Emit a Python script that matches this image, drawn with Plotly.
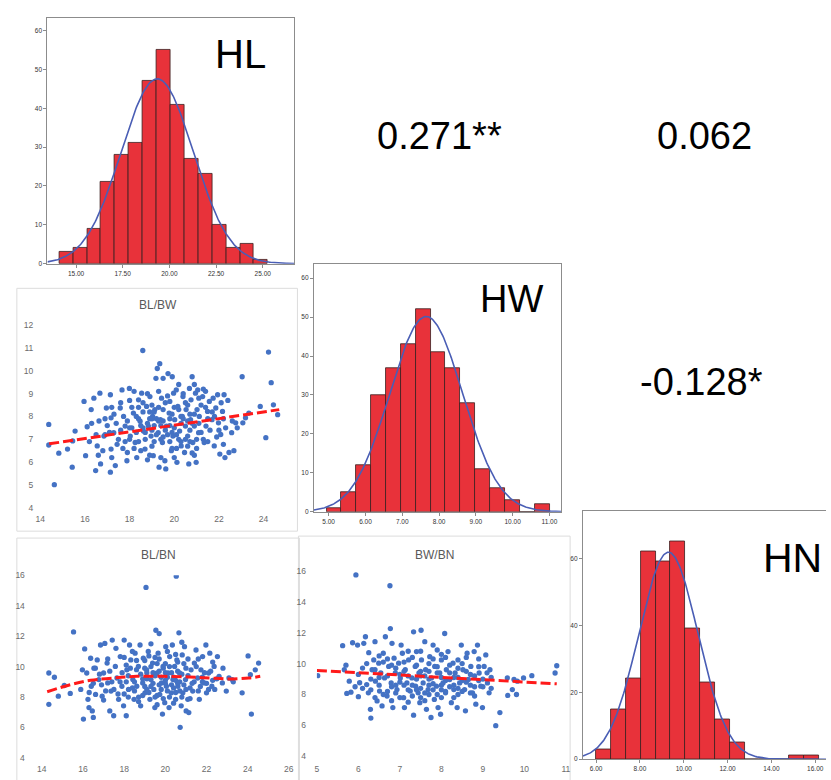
import numpy as np
import plotly.graph_objects as go

W, H = 831, 780
def px(x): return x / W
def py(y): return 1 - y / H

# ---------------- Histogram data ----------------
HL_bin_start, HL_bin_width = 14.1, 0.745
HL_counts = [3, 4, 9, 21, 28, 31, 47, 55, 41, 27, 23, 10, 4, 5, 1]
HL_fit = (19.35, 1.93)

HW_bin_start, HW_bin_width = 4.94, 0.404
HW_counts = [1, 5, 12, 30, 37, 43, 52, 41, 37, 28, 11, 6, 3, 0, 2]
HW_fit = (7.65, 0.99)

HN_bin_start, HN_bin_width = 6.0, 0.677
HN_counts = [3, 15, 24, 62, 59, 65, 39, 23, 12, 5, 0, 0, 0, 1, 1]
HN_fit = (9.3, 1.35)

HL_ticks = [15.0, 17.5, 20.0, 22.5, 25.0]
HW_ticks = [5.0, 6.0, 7.0, 8.0, 9.0, 10.0, 11.0]
HN_ticks = [6.0, 8.0, 10.0, 12.0, 14.0, 16.0]

# ---------------- Correlations ----------------
corr_labels = ["0.271**", "0.062", "-0.128*"]

# ---------------- Scatter BL/BW ----------------
BL_BW = [
(14.38,7.65),(14.38,6.75),(14.63,5.01),(14.83,6.39),(15.22,6.57),(15.43,5.78),(15.56,7.36),(15.45,6.93),
(15.96,8.66),(16.03,6.28),(16.1,7.55),(16.28,8.30),(16.4,8.8),(16.48,5.63),(16.55,6.71),(16.63,7.80),
(16.67,9.02),(16.7,5.92),(16.85,7.14),(16.96,8.37),(17.14,8.95),(17.14,5.56),(17.17,7.94),(17.29,7.29),
(17.17,6.57),(17.36,5.85),(17.44,6.78),(17.58,8.37),(17.66,9.16),(17.73,8.0),(17.8,7.58),(17.9,6.42),
(17.99,9.23),(17.88,6.06),(18.03,7.14),(18.17,8.15),(18.25,6.86),(18.32,6.2),(18.4,8.73),(18.47,7.79),
(18.54,9.02),(18.59,10.89),(18.62,7.36),(18.69,6.57),(18.76,8.44),(18.84,7.58),(18.91,8.87),(18.96,7.14),
(19.03,8.0),(19.06,6.28),(19.13,8.3),(19.18,9.67),(19.24,10.1),(19.28,7.29),(19.32,5.78),(19.35,10.31),
(19.38,7.86),(19.43,8.8),(19.47,6.86),(19.5,9.67),(19.58,6.06),(19.62,5.7),(19.65,7.58),(19.72,9.88),
(19.77,8.15),(19.8,8.66),(19.87,6.5),(19.91,9.74),(19.94,7.14),(19.97,9.02),(20.02,7.86),(20.09,9.16),
(20.12,5.99),(20.16,8.44),(20.24,7.36),(20.31,6.71),(20.36,8.0),(20.39,8.87),(20.46,6.42),(20.5,7.58),
(20.53,8.3),(20.6,7.14),(20.65,5.92),(20.68,9.23),(20.73,7.86),(20.75,8.73),(20.8,9.74),(20.83,6.86),
(20.9,7.58),(20.95,9.02),(20.98,5.99),(21.02,8.3),(21.05,9.16),(21.09,7.29),(21.12,8.0),(21.27,8.87),
(21.34,6.86),(21.42,7.58),(21.49,8.22),(21.57,8.66),(21.69,7.86),(21.74,8.8),(21.79,6.71),(21.86,8.37),
(21.94,8.95),(21.98,7.72),(22.04,6.35),(22.08,7.21),(22.16,8.22),(22.2,6.78),(22.27,6.2),(22.23,8.95),
(22.45,6.42),(22.57,7.29),(22.67,6.5),(22.75,7.72),(22.82,7.5),(23.04,9.74),(23.07,7.72),(23.19,7.94),
(23.34,8.15),(23.85,8.44),(24.1,7.07),(24.22,10.82),(24.34,9.48),(24.44,8.51),(24.63,8.08),
(16.2,6.9),(16.5,7.2),(16.8,6.5),(17.0,7.6),(17.3,8.1),(17.5,7.0),(17.7,6.6),(17.9,7.8),(18.0,7.0),
(18.1,8.4),(18.3,7.3),(18.4,7.9),(18.5,6.5),(18.6,8.2),(18.7,7.0),(18.8,7.7),(18.9,6.3),(19.0,7.4),
(19.0,8.5),(19.1,6.9),(19.2,7.9),(19.3,8.4),(19.4,7.0),(19.5,7.8),(19.6,8.6),(19.7,7.2),(19.8,6.9),
(19.9,8.1),(20.0,7.5),(20.1,6.6),(20.2,8.3),(20.3,7.7),(20.4,9.0),(20.5,7.0),(20.6,8.5),(20.7,7.4),
(20.8,6.4),(20.9,8.1),(21.0,7.0),(21.1,8.8),(21.2,7.3),(21.3,9.2),(21.5,7.9),(21.7,8.2),(21.9,7.1),
(22.1,8.6),(22.3,7.5),(22.6,7.8),(17.2,8.4),(16.9,7.9),(18.2,6.6),(19.4,6.2),(20.0,6.2),(20.7,6.9),
(19.1,7.6),(18.6,7.5),(19.8,7.6),(20.3,8.0),(18.9,8.2),(21.4,8.4),
(17.1,7.3),(17.4,7.7),(17.6,8.6),(17.8,6.9),(18.0,8.7),(18.1,7.5),(18.2,9.1),(18.3,8.0),(18.4,6.9),
(18.5,7.6),(18.6,8.6),(18.7,7.3),(18.8,9.0),(18.9,7.9),(19.0,6.7),(19.1,8.2),(19.2,7.2),(19.3,9.1),
(19.4,7.6),(19.5,8.3),(19.6,7.4),(19.7,8.9),(19.8,7.9),(19.9,6.6),(20.0,8.4),(20.1,7.2),(20.2,9.4),
(20.3,6.9),(20.4,7.9),(20.5,8.6),(20.6,6.7),(20.7,8.1),(20.8,7.7),(20.9,9.4),(21.0,6.6),(21.1,7.7),
(21.2,8.5),(21.3,7.0),(21.4,9.1),(21.6,7.4),(21.8,8.0),(22.0,7.4),(22.2,7.9),(22.4,8.7),(16.3,7.7),
(16.6,6.3),(16.9,7.2),(17.2,6.2),(17.6,7.4),(18.0,7.5),(18.8,6.1),(19.5,7.1),(20.2,7.0),(20.9,6.3),
(21.5,6.9),(19.3,7.8),(19.9,7.3),(18.4,8.4),(20.6,7.8),(19.0,7.9)]
BL_BW_trend_x = [14.4, 24.7]
BL_BW_trend_y = [6.8, 8.3]

# ---------------- Scatter BL/BN ----------------
BL_BN = [
(14.34,9.58),(14.34,7.52),(14.61,9.30),(14.8,8.06),(15.09,8.76),(15.38,8.24),(15.54,12.28),(15.89,8.5),
(15.97,9.79),(16.02,6.55),(16.08,11.16),(16.18,9.58),(16.24,7.85),(16.29,7.31),(16.37,10.55),(16.4,8.71),
(16.45,7.09),(16.5,6.66),(16.53,9.9),(16.61,8.17),(16.69,10.44),(16.77,9.15),(16.85,11.42),(16.93,8.06),
(17.0,9.58),(17.06,11.52),(17.17,10.23),(17.2,8.93),(17.3,7.09),(17.36,8.39),(17.42,11.74),(17.49,6.77),
(17.57,10.01),(17.65,9.25),(17.73,7.85),(17.81,10.66),(17.89,8.71),(17.97,7.42),(18.0,11.74),(18.1,6.77),
(18.13,9.79),(18.21,8.5),(18.26,11.42),(18.32,10.44),(18.42,9.15),(18.48,7.85),(18.53,10.88),(18.61,8.71),
(18.69,10.01),(18.77,11.42),(18.8,7.42),(18.9,8.93),(18.93,10.55),(19.01,8.28),(19.06,15.2),(19.09,9.79),
(19.17,11.0),(19.25,7.85),(19.3,9.15),(19.38,10.23),(19.44,8.5),(19.49,7.31),(19.54,12.39),(19.6,9.58),
(19.65,10.88),(19.7,12.17),(19.73,8.17),(19.81,8.93),(19.86,6.88),(19.89,10.01),(19.97,7.63),(20.02,11.31),
(20.05,8.71),(20.13,9.58),(20.18,7.31),(20.21,10.66),(20.29,8.28),(20.34,11.42),(20.37,9.15),(20.45,10.01),
(20.5,7.85),(20.53,15.94),(20.56,10.44),(20.61,8.71),(20.66,12.22),(20.69,9.58),(20.72,6.01),(20.77,7.42),
(20.82,10.77),(20.85,8.28),(20.93,11.31),(20.98,9.15),(21.01,7.09),(21.09,7.85),(21.14,6.98),(21.25,9.79),
(21.33,8.39),(21.41,10.23),(21.49,11.09),(21.57,9.25),(21.65,7.85),(21.73,9.79),(21.81,10.66),(21.89,8.93),
(21.97,11.42),(22.0,8.28),(22.1,9.58),(22.16,10.88),(22.26,8.71),(22.37,10.01),(22.53,10.66),(22.61,9.36),
(22.77,8.93),(22.96,8.39),(23.09,9.25),(23.25,9.15),(23.73,8.28),(24.02,10.7),(24.18,6.88),(24.13,9.47),
(24.37,9.79),(24.53,10.23),
(17.5,8.5),(17.8,9.0),(18.0,8.2),(18.2,9.4),(18.4,8.6),(18.6,9.8),(18.7,8.0),(18.9,9.2),(19.0,8.7),
(19.1,9.6),(19.2,8.3),(19.3,10.0),(19.4,8.9),(19.5,9.4),(19.6,8.1),(19.7,9.7),(19.8,8.5),(19.9,9.9),
(20.0,8.9),(20.1,9.3),(20.2,8.0),(20.3,9.6),(20.4,8.6),(20.5,9.1),(20.6,10.3),(20.7,8.4),(20.8,9.5),
(20.9,8.8),(21.0,9.9),(21.2,8.6),(21.4,9.0),(21.6,8.4),(21.8,9.3),(22.0,8.9),(22.2,9.7),(22.4,8.5),
(16.8,9.5),(17.1,8.4),(17.3,9.7),(16.5,8.9),(18.1,10.1),(18.5,9.0),(19.0,10.4),(19.5,10.6),(20.0,10.2),
(20.5,10.8),(21.1,10.5),(22.3,9.1),(22.8,9.9),(23.3,9.0),
(16.6,9.9),(16.9,8.8),(17.2,10.5),(17.4,9.0),(17.7,8.2),(17.9,9.6),(18.0,10.6),(18.2,8.0),(18.3,9.9),
(18.5,8.4),(18.6,10.4),(18.8,9.5),(18.9,8.1),(19.0,9.9),(19.1,8.5),(19.2,10.7),(19.3,8.7),(19.4,9.6),
(19.5,8.0),(19.6,10.2),(19.7,8.8),(19.8,9.3),(19.9,7.9),(20.0,9.6),(20.1,8.4),(20.2,10.0),(20.3,8.8),
(20.4,9.3),(20.5,8.3),(20.6,9.7),(20.7,9.0),(20.8,8.0),(20.9,10.2),(21.0,8.5),(21.1,9.4),(21.3,8.9),
(21.5,10.0),(21.7,8.7),(21.9,9.6),(22.1,8.5),(22.3,10.3),(22.5,9.2),(17.0,7.8),(17.6,11.2),(18.4,11.0),
(19.3,11.5),(20.1,11.0),(20.8,11.6),(21.6,10.5),(18.7,7.7),(19.6,7.5),(20.4,7.6),(21.2,7.9),(16.3,8.3),
(19.1,9.2),(20.0,9.1),(19.7,10.5),(18.1,9.0),(20.6,8.9),(21.8,9.0)]
BL_BN_trend_x = [14.26, 15.41, 16.37, 17.49, 18.61, 19.89, 21.17, 22.13, 23.09, 24.05, 24.61]
BL_BN_trend_y = [8.35, 8.82, 9.10, 9.25, 9.36, 9.36, 9.32, 9.25, 9.19, 9.25, 9.36]

# ---------------- Scatter BW/BN ----------------
BW_BN = [
(5.02,9.22),(5.62,11.16),(5.66,9.6),(5.72,8.07),(5.78,8.86),(5.82,8.15),(5.86,11.35),(5.92,8.5),
(5.94,15.74),(5.98,11.2),(6.0,7.86),(6.03,8.76),(6.1,9.71),(6.13,11.31),(6.17,11.74),(6.2,8.64),
(6.24,8.11),(6.25,10.71),(6.29,7.04),(6.3,6.47),(6.33,9.6),(6.37,10.24),(6.4,11.42),(6.41,8.86),
(6.45,7.58),(6.49,10.03),(6.51,8.22),(6.54,9.39),(6.57,7.26),(6.6,10.67),(6.63,9.07),(6.65,11.74),
(6.69,7.9),(6.73,9.82),(6.76,15.04),(6.77,12.27),(6.79,8.75),(6.81,11.31),(6.83,7.15),(6.86,10.35),
(6.89,9.39),(6.93,8.32),(6.97,10.03),(7.01,9.07),(7.03,11.2),(7.06,10.67),(7.09,7.79),(7.11,7.15),
(7.13,9.6),(7.17,8.75),(7.21,10.24),(7.25,8.22),(7.29,9.07),(7.33,12.06),(7.33,6.66),(7.37,9.82),
(7.38,8.54),(7.4,10.78),(7.44,8.11),(7.46,9.39),(7.48,7.47),(7.51,12.16),(7.52,10.24),(7.56,8.75),
(7.6,11.42),(7.62,9.6),(7.64,7.04),(7.68,8.32),(7.72,10.45),(7.75,6.51),(7.76,9.07),(7.8,11.2),
(7.83,7.68),(7.84,9.82),(7.88,8.54),(7.9,10.88),(7.92,7.15),(7.96,9.39),(7.98,6.72),(8.0,10.24),
(8.04,8.75),(8.08,11.95),(8.1,8.11),(8.12,9.6),(8.16,10.78),(8.2,8.97),(8.24,7.47),(8.28,10.03),
(8.3,8.32),(8.33,9.39),(8.38,7.15),(8.4,10.24),(8.44,8.75),(8.48,11.2),(8.52,9.6),(8.56,8.32),
(8.58,6.94),(8.62,10.67),(8.65,8.97),(8.71,9.82),(8.75,8.11),(8.79,10.78),(8.83,7.37),(8.87,11.2),
(8.91,9.39),(8.95,8.54),(8.99,7.15),(9.03,9.82),(9.07,10.56),(9.11,8.75),(9.15,8.11),(9.17,9.6),
(9.31,5.98),(9.41,6.83),(9.59,9.07),(9.6,7.94),(9.71,8.32),(9.75,8.97),(9.81,8.0),(9.83,8.86),
(9.98,9.07),(10.18,9.22),(10.74,9.39),(10.78,9.86),
(6.5,8.6),(6.7,9.2),(6.9,8.1),(7.0,8.8),(7.1,9.5),(7.2,8.3),(7.3,8.6),(7.4,9.0),(7.5,8.4),(7.6,9.2),
(7.7,8.0),(7.8,8.7),(7.9,9.4),(8.0,8.3),(8.1,8.9),(8.2,9.4),(8.3,8.6),(8.4,9.1),(8.5,8.2),(8.6,8.8),
(8.7,9.3),(8.8,8.5),(9.0,9.0),(9.2,8.4),(6.6,10.1),(6.8,7.6),(7.2,7.5),(7.5,7.8),(8.0,7.8),(8.4,8.0),
(6.3,9.0),(6.0,9.3),(7.7,10.0),(8.9,9.8),(6.4,7.8),
(6.3,8.3),(6.4,9.6),(6.5,10.5),(6.6,8.0),(6.7,10.3),(6.8,8.5),(6.9,9.7),(7.0,7.8),(7.1,10.1),(7.2,9.2),
(7.3,7.9),(7.3,10.4),(7.4,8.3),(7.5,9.5),(7.5,10.8),(7.6,8.1),(7.7,9.0),(7.8,10.3),(7.8,8.3),(7.9,9.8),
(8.0,8.6),(8.0,9.1),(8.1,10.4),(8.1,8.2),(8.2,9.9),(8.3,9.1),(8.4,8.4),(8.5,10.0),(8.5,8.9),(8.6,9.5),
(8.7,8.1),(8.8,9.2),(8.9,10.3),(9.0,8.5),(9.1,9.4),(6.2,10.0),(6.5,9.1),(6.8,9.9),(7.1,8.6),(7.4,9.9),
(7.7,8.6),(8.0,10.6),(8.3,7.8),(8.6,10.4),(8.9,8.9),(6.9,8.6),(7.2,10.8),(7.6,7.6),(7.9,8.0),(8.2,8.5),
(8.4,9.7),(8.7,8.6),(7.0,9.3),(7.5,9.2),(7.7,9.5),(6.7,8.2),(8.8,7.9),(9.2,9.1),(6.1,8.4),(5.7,9.9)]
BW_BN_trend_x = [5.0, 10.78]
BW_BN_trend_y = [9.56, 8.69]

# ---------------- Styles ----------------
BAR_RED = "#E8323A"
CURVE_BLUE = "#4A5EB5"
DOT_BLUE = "#4472C4"
TREND_RED = "#FF1A1A"
FONT = "Liberation Sans, Arial, sans-serif"

fig = go.Figure()

def hist_panel(idx, start, width, counts, fit, xr):
    n = len(counts)
    centers = [start + (i + 0.5) * width for i in range(n)]
    fig.add_trace(go.Bar(x=centers, y=counts, width=width,
                         marker=dict(color=BAR_RED, line=dict(color="#3a2020", width=0.8)),
                         xaxis=f"x{idx}", yaxis=f"y{idx}", showlegend=False, hoverinfo="skip"))
    total = sum(counts)
    mu, sd = fit
    xs = np.linspace(xr[0], xr[1], 300)
    ys = total * width * np.exp(-0.5 * ((xs - mu) / sd) ** 2) / (sd * np.sqrt(2 * np.pi))
    fig.add_trace(go.Scatter(x=xs, y=ys, mode="lines", line=dict(color=CURVE_BLUE, width=1.6),
                             xaxis=f"x{idx}", yaxis=f"y{idx}", showlegend=False, hoverinfo="skip"))

def scatter_panel(idx, pts, tx, ty):
    xs = [p[0] for p in pts]
    ys = [p[1] for p in pts]
    fig.add_trace(go.Scatter(x=xs, y=ys, mode="markers",
                             marker=dict(color=DOT_BLUE, size=5.3),
                             xaxis=f"x{idx}", yaxis=f"y{idx}", showlegend=False, hoverinfo="skip"))
    fig.add_trace(go.Scatter(x=tx, y=ty, mode="lines", line_shape="spline",
                             line=dict(color=TREND_RED, width=3, dash="10px,4px"),
                             xaxis=f"x{idx}", yaxis=f"y{idx}", showlegend=False, hoverinfo="skip"))

HL_xr = [13.47, 26.7]; HW_xr = [4.6, 11.32]; HN_xr = [5.4, 16.49]
hist_panel(1, HL_bin_start, HL_bin_width, HL_counts, HL_fit, HL_xr)
hist_panel(2, HW_bin_start, HW_bin_width, HW_counts, HW_fit, HW_xr)
hist_panel(3, HN_bin_start, HN_bin_width, HN_counts, HN_fit, HN_xr)
scatter_panel(4, BL_BW, BL_BW_trend_x, BL_BW_trend_y)
scatter_panel(5, BL_BN, BL_BN_trend_x, BL_BN_trend_y)
scatter_panel(6, BW_BN, BW_BN_trend_x, BW_BN_trend_y)

hist_x = dict(showline=True, linecolor="#8c8c8c", linewidth=1.2, mirror=True, ticks="outside",
              ticklen=3, tickcolor="#8c8c8c", tickformat=".2f", showgrid=False, zeroline=False,
              tickfont=dict(size=6.5, color="#333333", family=FONT))
hist_y = dict(showline=True, linecolor="#8c8c8c", linewidth=1.2, mirror=True, ticks="outside",
              ticklen=3, tickcolor="#8c8c8c", showgrid=False, zeroline=False,
              tickfont=dict(size=6.5, color="#333333", family=FONT))
sc_ax = dict(showline=False, showgrid=False, zeroline=False, ticks="",
             tickfont=dict(size=8.5, color="#6b6b6b", family=FONT))

layout = dict(
    width=W, height=H, margin=dict(l=0, r=0, t=0, b=0), autosize=False,
    paper_bgcolor="white", plot_bgcolor="rgba(0,0,0,0)", bargap=0,
    font=dict(family=FONT),
    xaxis=dict(hist_x, domain=[px(43), px(293)], range=HL_xr, tickvals=HL_ticks, anchor="y"),
    yaxis=dict(hist_y, domain=[py(262), py(13)], range=[0, 63.3], tickvals=[0, 10, 20, 30, 40, 50, 60], anchor="x"),
    xaxis2=dict(hist_x, domain=[px(312.7), px(563)], range=HW_xr, tickvals=HW_ticks, anchor="y2"),
    yaxis2=dict(hist_y, domain=[py(513.3), py(262.5)], range=[0, 63.6], tickvals=[0, 10, 20, 30, 40, 50, 60], anchor="x2"),
    xaxis3=dict(hist_x, domain=[px(585), 1.0], range=HN_xr, tickvals=HN_ticks, anchor="y3"),
    yaxis3=dict(hist_y, domain=[py(764), py(513)], range=[0, 74], tickvals=[0, 20, 40, 60], anchor="x3", mirror=False),
    xaxis4=dict(sc_ax, domain=[px(35.7), px(290)], range=[14, 25.25], tickvals=[14, 16, 18, 20, 22, 24],
                anchor="y4", ticklabelstandoff=5),
    yaxis4=dict(sc_ax, domain=[py(509.3), py(324.3)], range=[4, 12], tickvals=list(range(4, 13)),
                anchor="x4", ticklabelstandoff=6),
    xaxis5=dict(sc_ax, domain=[px(37.3), px(287.3)], range=[14, 26], tickvals=list(range(14, 27, 2)),
                anchor="y5", ticklabelstandoff=5),
    yaxis5=dict(sc_ax, domain=[py(762.7), py(577.7)], range=[4, 16], tickvals=list(range(4, 17, 2)),
                anchor="x5", ticklabelstandoff=16),
    xaxis6=dict(sc_ax, domain=[px(315.7), px(567.7)], range=[5, 11], tickvals=list(range(5, 12)),
                anchor="y6", ticklabelstandoff=6),
    yaxis6=dict(sc_ax, domain=[py(761), py(573.3)], range=[4, 16], tickvals=list(range(4, 17, 2)),
                anchor="x6", ticklabelstandoff=10),
)
fig.update_layout(**layout)

# Panel borders for scatter charts (light gray chart areas)
for (x0, y0, x1, y1) in [(12, 287, 296, 533), (12, 540, 298, 790), (297, 538, 572, 790)]:
    fig.add_shape(type="rect", xref="paper", yref="paper",
                  x0=px(x0), x1=px(x1), y0=py(y1), y1=py(y0),
                  line=dict(color="#dcdcdc", width=1), fillcolor="rgba(0,0,0,0)", layer="below")

def txt(x, y, s, size, color="black"):
    fig.add_annotation(x=px(x), y=py(y), xref="paper", yref="paper", text=s, showarrow=False,
                       xanchor="center", yanchor="middle",
                       font=dict(size=size, color=color, family=FONT))

txt(238, 50, "HL", 40)
txt(513, 298, "HW", 38)
txt(797, 560, "HN", 41)
txt(440, 133, corr_labels[0], 38)
txt(708, 133, corr_labels[1], 38)
txt(705, 382, corr_labels[2], 38)
txt(155, 304, "BL/BW", 12, "#595959")
txt(155, 557, "BL/BN", 12, "#595959")
txt(435, 557, "BW/BN", 12, "#595959")

fig.write_html("out.html", config={"displayModeBar": False},
               post_script="document.body.style.margin='0';document.body.style.padding='0';")
